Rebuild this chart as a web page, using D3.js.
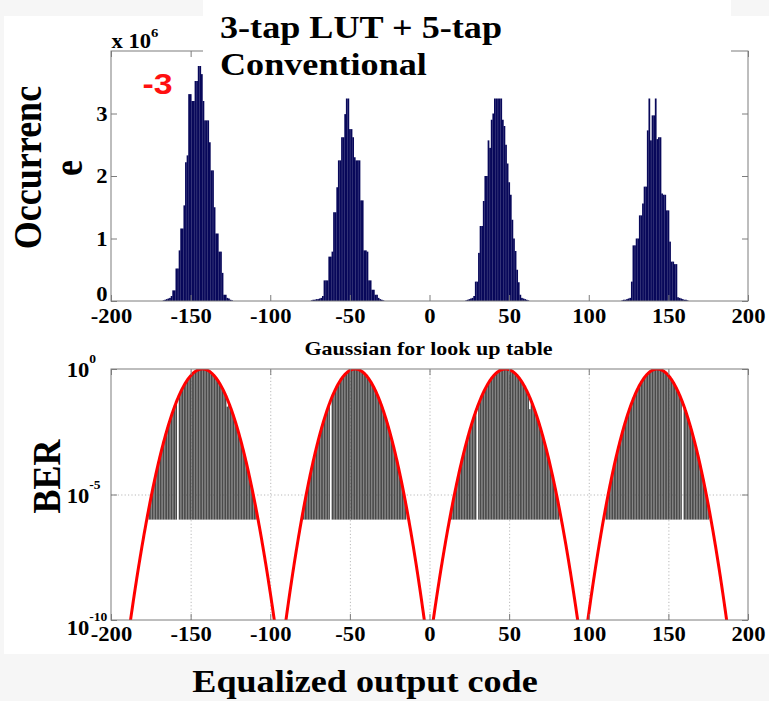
<!DOCTYPE html>
<html>
<head>
<meta charset="utf-8">
<script src="https://cdn.jsdelivr.net/npm/d3@7"></script>
<style>
  html, body { margin: 0; padding: 0; background: #f6f6f6; }
  svg { display: block; }
  text { font-family: "Liberation Serif", "Times New Roman", serif; font-weight: bold; fill: #000; }
</style>
</head>
<body>
<svg id="fig" width="769" height="701"></svg>
<script>
// ---------------- data ----------------
const xTicks = [-200, -150, -100, -50, 0, 50, 100, 150, 200];
const occTicks = [0, 1, 2, 3];
const berTickExp = [0, -5, -10];

// Occurrence histogram (x 10^6), one bin per equalized output code, four clusters
const occStart = [-167, -74, 23, 121];
const occValues = [
  [0.01, 0.02, 0.03, 0.04, 0.05, 0.08, 0.17, 0.17, 0.52, 0.52, 0.81, 1.16, 1.16, 1.53, 2.22, 2.33,
   3.31, 3.31, 3.20, 3.20, 3.52, 3.52, 3.76, 3.76, 3.63, 3.20, 2.89, 2.89, 2.89, 2.54, 2.09, 2.09,
   1.50, 1.08, 1.08, 0.79, 0.79, 0.45, 0.10, 0.10, 0.05, 0.04, 0.02, 0.01],
  [0.01, 0.02, 0.02, 0.03, 0.03, 0.04, 0.05, 0.08, 0.33, 0.33, 0.33, 0.71, 0.71, 0.79, 1.42, 1.42,
   1.82, 2.25, 2.25, 2.62, 2.62, 2.99, 3.60, 3.45, 2.75, 2.75, 2.62, 2.30, 2.25, 2.25, 2.25, 1.61,
   1.61, 0.81, 0.81, 0.79, 0.33, 0.33, 0.18, 0.18, 0.10, 0.10, 0.05, 0.03, 0.02, 0.01],
  [0.01, 0.02, 0.03, 0.04, 0.05, 0.08, 0.31, 0.31, 0.77, 1.20, 1.20, 1.60, 2.00, 2.00, 2.57, 2.45,
   2.90, 3.00, 3.50, 3.70, 3.50, 3.60, 3.30, 2.90, 2.80, 2.50, 2.20, 1.90, 1.70, 1.30, 1.00, 0.80,
   0.50, 0.30, 0.10, 0.05, 0.04, 0.03, 0.02, 0.01],
  [0.01, 0.02, 0.02, 0.03, 0.04, 0.05, 0.31, 0.89, 0.89, 1.00, 1.00, 1.37, 1.37, 1.56, 1.83, 1.83,
   2.73, 3.50, 2.57, 2.97, 2.97, 3.60, 2.59, 2.62, 2.62, 1.72, 1.70, 1.70, 1.45, 1.45, 0.95, 0.63,
   0.63, 0.59, 0.59, 0.06, 0.05, 0.04, 0.03, 0.02, 0.02, 0.01]
];

// BER per output code (log10), bars drawn up from the 1e-6 floor; null = no bar
const berFloor = 1e-6;
const berStart = [-176, -79, 14, 111];
const berLog10 = [
  [-5.48, -5.16, -4.84, -4.54, -4.24, -3.96, -3.69, -3.42, -3.17, -2.92, -2.69, -2.46, -2.25, -2.04,
   -1.85, -1.66, -1.49, -1.32, null, -1.02, -0.88, -0.76, -0.64, -0.53, -0.43, -0.35, -0.27, -0.20,
   -0.14, -0.10, -0.06, -0.03, -0.01, 0, 0, -0.01, -0.03, -0.06, -0.10, -0.15, -0.21, -0.28, -0.36,
   -0.45, -0.55, -0.66, -0.78, -0.91, -1.05, -1.50, -1.35, -1.52, -1.70, -1.89, -2.08, -2.29, -2.51,
   -2.74, -2.97, -3.22, -3.48, -3.74, -4.02, -4.30, -4.60, -4.91, -5.22, -5.55],
  [-5.53, -5.20, -4.87, -4.55, -4.25, -3.95, -3.67, -3.39, -3.13, -2.88, -2.64, -2.41, -2.18, -1.97,
   -1.78, -1.59, -1.41, null, -1.08, -0.94, -0.80, -0.68, -0.56, -0.46, -0.37, -0.28, -0.21, -0.15,
   -0.10, -0.06, -0.03, -0.01, 0, 0, -0.02, -0.04, -0.07, -0.12, -0.17, -0.24, -0.31, -0.40, -0.50,
   -0.61, -0.73, -0.86, -1.00, -1.15, -1.31, -1.48, -1.66, -1.85, -2.06, -2.27, -2.50, -2.73, -2.98,
   -3.23, -3.50, -3.78, -4.07, -4.37, -4.68, -5.00, -5.33],
  [-5.53, -5.20, -4.89, -4.59, -4.29, -4.01, -3.73, -3.47, -3.21, -2.97, -2.73, -2.51, -2.29, -2.08,
   -1.89, -1.70, null, -1.36, -1.20, -1.05, -0.91, -0.78, -0.67, -0.56, -0.46, -0.37, -0.29, -0.22,
   -0.16, -0.11, -0.07, -0.04, -0.01, 0, 0, -0.01, -0.03, -0.05, -0.09, -0.14, -0.19, -0.26, -0.34,
   -0.42, -0.52, -0.62, -0.74, -0.86, -0.99, -1.60, -1.29, -1.46, -1.63, -1.81, -2.01, -2.21, -2.42,
   -2.64, -2.87, -3.11, -3.37, -3.63, -3.90, -4.18, -4.47, -4.77, -5.08, -5.40],
  [-5.40, -5.06, -4.74, -4.43, -4.13, -3.84, -3.56, -3.29, -3.03, -2.79, -2.55, -2.32, -2.11, -1.90,
   -1.71, -1.52, -1.35, -1.19, -1.03, -0.89, -0.76, -0.64, -0.53, -0.43, -0.34, -0.26, -0.19, -0.13,
   -0.08, -0.05, -0.02, -0.01, 0, -0.01, -0.02, -0.05, -0.08, -0.13, -0.19, -0.26, -0.34, -0.43, -0.53,
   -0.64, -0.76, -0.89, -1.03, -1.19, null, -1.52, -1.71, -1.90, -2.11, -2.32, -2.55, -2.79, -3.03,
   -3.29, -3.56, -3.84, -4.13, -4.43, -4.74, -5.06, -5.40]
];

// Gaussian look-up-table fit for each cluster (mean, sigma in output codes)
const gaussCenter = [-142.6, -46.7, 47.7, 143.0];
const gaussSigma = [6.65, 6.40, 6.68, 6.42];

// ---------------- layout ----------------
const SX = 1.13;               // horizontal stretch of all lettering
const svg = d3.select("#fig");
const AX = "#7c7c7c";

svg.append("rect").attr("x", 0).attr("y", 0).attr("width", 769).attr("height", 701).attr("fill", "#f6f6f6");
svg.append("rect").attr("x", 4).attr("y", 16).attr("width", 765).attr("height", 638).attr("fill", "#fff");

const x = d3.scaleLinear().domain([-200, 200]).range([111, 748]);
const yOcc = d3.scaleLinear().domain([0, 4]).range([301, 51]);
const yBer = d3.scaleLog().domain([1e-10, 1]).range([620, 369]);
const step = x(1) - x(0);

function stretchText(sel, tx, ty, extra) {
  sel.attr("x", 0).attr("y", 0).attr("dy", null)
     .attr("transform", `translate(${tx},${ty}) scale(${SX},1)` + (extra || ""));
}

// ---------------- upper panel: occurrence histogram ----------------
const occG = svg.append("g");
const occBars = [];
occValues.forEach((arr, i) => arr.forEach((v, j) => occBars.push({ code: occStart[i] + j, v })));

occG.append("g").selectAll("rect").data(occBars).join("rect")
  .attr("x", d => x(d.code - 0.5))
  .attr("width", step + 0.15)
  .attr("y", d => yOcc(d.v))
  .attr("height", d => yOcc(0) - yOcc(d.v))
  .attr("fill", "#08085a");

function styleTicks(g) {
  g.select(".domain").remove();
  g.selectAll("line").attr("stroke", AX);
  g.attr("font-size", 20).attr("font-family", null);
}

const tb = occG.append("g").attr("transform", "translate(0,301)")
  .call(d3.axisBottom(x).tickValues(xTicks).tickSizeInner(-6).tickSizeOuter(0).tickFormat(d => String(d)));
styleTicks(tb);
tb.selectAll("text").each(function () { stretchText(d3.select(this), 0, 21.5); });

const tt = occG.append("g").attr("transform", "translate(0,51)")
  .call(d3.axisTop(x).tickValues(xTicks).tickSizeInner(-6).tickSizeOuter(0).tickFormat(""));
styleTicks(tt);

const tl = occG.append("g").attr("transform", "translate(111,0)")
  .call(d3.axisLeft(yOcc).tickValues(occTicks).tickSizeInner(-6).tickSizeOuter(0).tickFormat(d => String(d)));
styleTicks(tl);
tl.selectAll("text").each(function (d) { stretchText(d3.select(this), -3.5, d === 0 ? -0.5 : 6.8); });

const tr = occG.append("g").attr("transform", "translate(748,0)")
  .call(d3.axisRight(yOcc).tickValues(occTicks).tickSizeInner(-6).tickSizeOuter(0).tickFormat(""));
styleTicks(tr);

occG.append("rect").attr("x", 111).attr("y", 51).attr("width", 637).attr("height", 250)
  .attr("fill", "none").attr("stroke", AX).attr("stroke-width", 1);

// axis multiplier
const mult = occG.append("text").attr("font-size", 20);
stretchText(mult, 111.5, 48.3);
mult.append("tspan").text("x 10");
mult.append("tspan").attr("dy", -11).attr("font-size", 13).text("6");

// red marker
const red = occG.append("text").attr("font-size", 30).style("font-family", '"Liberation Sans", Arial, sans-serif')
  .style("fill", "#ff1010").text("-3");
stretchText(red, 142.5, 93.5);

// title block
svg.append("rect").attr("x", 203).attr("y", 0).attr("width", 528).attr("height", 98.5).attr("fill", "#fff");
const t1 = svg.append("text").attr("font-size", 32).text("3-tap LUT + 5-tap");
stretchText(t1, 220, 38);
const t2 = svg.append("text").attr("font-size", 32).text("Conventional");
stretchText(t2, 220, 75);

// y label
const yl1 = svg.append("text").attr("font-size", 36).attr("text-anchor", "middle").text("Occurrenc");
stretchText(yl1, 41, 167.5, " rotate(-90)");
const yl2 = svg.append("text").attr("font-size", 36).attr("text-anchor", "middle").text("e");
stretchText(yl2, 82, 168, " rotate(-90)");

// ---------------- lower panel: BER ----------------
const berG = svg.append("g");
svg.append("defs").append("clipPath").attr("id", "berClip")
  .append("rect").attr("x", 111).attr("y", 369).attr("width", 637).attr("height", 251);

// dotted grid
const gx = berG.append("g").attr("transform", "translate(0,620)")
  .call(d3.axisBottom(x).tickValues(xTicks.slice(1, -1)).tickSizeInner(-251).tickSizeOuter(0).tickFormat(""));
gx.select(".domain").remove();
gx.selectAll("line").attr("stroke", "#b8b8b8").attr("stroke-dasharray", "1.2,2.2");
const gy = berG.append("g").attr("transform", "translate(111,0)")
  .call(d3.axisLeft(yBer).tickValues([1e-5]).tickSizeInner(-637).tickSizeOuter(0).tickFormat(""));
gy.select(".domain").remove();
gy.selectAll("line").attr("stroke", "#b8b8b8").attr("stroke-dasharray", "1.2,2.2");

// BER bars
const berBars = [];
berLog10.forEach((arr, i) => arr.forEach((v, j) => { if (v !== null) berBars.push({ code: berStart[i] + j, v }); }));
berG.append("g").selectAll("rect").data(berBars).join("rect")
  .attr("x", d => x(d.code - 0.5) + step * 0.05)
  .attr("width", step * 0.9)
  .attr("y", d => yBer(Math.pow(10, d.v)))
  .attr("height", d => yBer(berFloor) - yBer(Math.pow(10, d.v)))
  .attr("fill", "#4a4a4a");

// Gaussian look-up-table curves
const line = d3.line().x(d => x(d[0])).y(d => yBer(Math.max(d[1], 1e-12)));
gaussCenter.forEach((c, i) => {
  const s = gaussSigma[i];
  const half = s * Math.sqrt(2 * Math.LN10 * 10.6);
  const pts = d3.range(c - half, c + half + 0.001, 0.25).map(v => [v, Math.exp(-((v - c) ** 2) / (2 * s * s))]);
  berG.append("path").datum(pts).attr("d", line).attr("clip-path", "url(#berClip)")
    .attr("fill", "none").attr("stroke", "#ff0000").attr("stroke-width", 3).attr("stroke-linejoin", "round");
});

// ticks and frame
const bb = berG.append("g").attr("transform", "translate(0,620)")
  .call(d3.axisBottom(x).tickValues(xTicks).tickSizeInner(-6).tickSizeOuter(0).tickFormat(d => String(d)));
styleTicks(bb);
bb.selectAll("text").each(function () { stretchText(d3.select(this), 0, 21); });

const bt = berG.append("g").attr("transform", "translate(0,369)")
  .call(d3.axisTop(x).tickValues(xTicks).tickSizeInner(-6).tickSizeOuter(0).tickFormat(""));
styleTicks(bt);

const bl = berG.append("g").attr("transform", "translate(111,0)")
  .call(d3.axisLeft(yBer).tickValues(berTickExp.map(e => Math.pow(10, e))).tickSizeInner(-6).tickSizeOuter(0).tickFormat(""));
styleTicks(bl);
bl.selectAll(".tick").each(function (d) {
  const e = Math.round(Math.log10(d));
  const t = d3.select(this).append("text").attr("text-anchor", "start");
  stretchText(t, 66.7 - 111, e === -10 ? 14 : 7.8);
  t.append("tspan").text("10");
  t.append("tspan").attr("dy", -14).attr("font-size", 12).text(String(e));
});

const br = berG.append("g").attr("transform", "translate(748,0)")
  .call(d3.axisRight(yBer).tickValues(berTickExp.map(e => Math.pow(10, e))).tickSizeInner(-6).tickSizeOuter(0).tickFormat(""));
styleTicks(br);

berG.append("rect").attr("x", 111).attr("y", 369).attr("width", 637).attr("height", 251)
  .attr("fill", "none").attr("stroke", AX).attr("stroke-width", 1);

const sub = svg.append("text").attr("font-size", 19.5).attr("text-anchor", "middle").text("Gaussian for look up table");
stretchText(sub, 428.5, 355);

const byl = svg.append("text").attr("font-size", 36).attr("text-anchor", "middle").text("BER");
stretchText(byl, 60, 476.5, " rotate(-90)");

const xl = svg.append("text").attr("font-size", 32).attr("text-anchor", "middle").text("Equalized output code");
stretchText(xl, 365, 692);
</script>
</body>
</html>
